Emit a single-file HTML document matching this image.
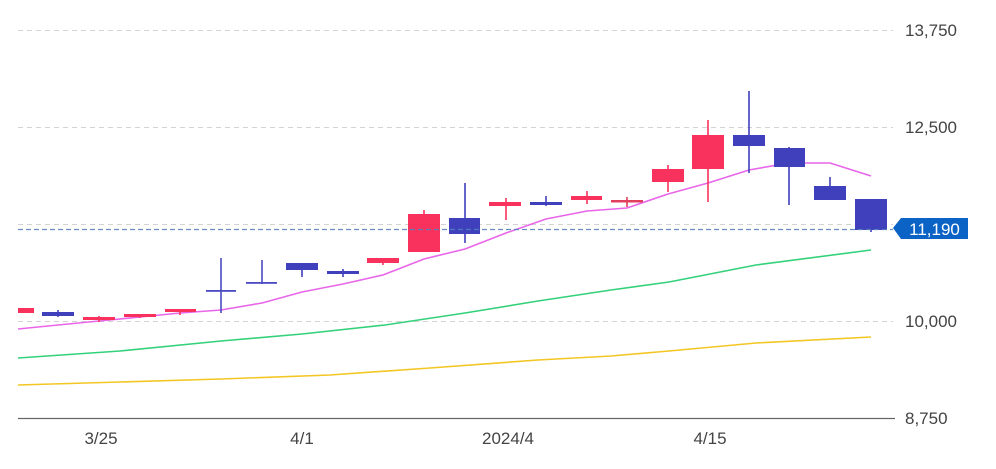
<!DOCTYPE html>
<html>
<head>
<meta charset="utf-8">
<style>
  html,body{margin:0;padding:0;background:#fff;}
  svg{display:block;}
  text{font-family:"Liberation Sans", Arial, sans-serif;}
</style>
</head>
<body>
<svg width="996" height="469" viewBox="0 0 996 469" xmlns="http://www.w3.org/2000/svg">
  <defs>
    <clipPath id="plot"><rect x="18" y="0" width="878" height="418"/></clipPath>
  </defs>
  <!-- grid -->
  <g stroke="#d3d3d3" stroke-width="1" stroke-dasharray="5,4">
    <line x1="18" y1="30.5" x2="893" y2="30.5"/>
    <line x1="18" y1="127.5" x2="893" y2="127.5"/>
    <line x1="18" y1="224.5" x2="893" y2="224.5"/>
    <line x1="18" y1="321.5" x2="893" y2="321.5"/>
  </g>
  <line x1="18" y1="418.5" x2="895" y2="418.5" stroke="#666" stroke-width="1.2"/>

  <!-- y labels -->
  <g fill="#444" font-size="17">
    <text x="905" y="36">13,750</text>
    <text x="905" y="133">12,500</text>
    <text x="905" y="327">10,000</text>
    <text x="905" y="424">8,750</text>
  </g>
  <!-- x labels -->
  <g fill="#444" font-size="17" text-anchor="middle">
    <text x="101" y="444">3/25</text>
    <text x="302" y="444">4/1</text>
    <text x="508" y="444">2024/4</text>
    <text x="710" y="444">4/15</text>
  </g>

  <!-- moving averages -->
  <g fill="none" stroke-width="1.6" stroke-linejoin="round" clip-path="url(#plot)">
    <polyline stroke="#f3c623" points="18,385 120,382 221,379 330,375 430,368 538,360 611,356 669,351 756,343 871,337"/>
    <polyline stroke="#33d17a" points="18,358 120,351 221,341 302,334 385,325 465,313 538,301 611,290 669,282 756,265 871,250"/>
    <polyline stroke="#e866e8" points="18,329 58,325 99,321 140,317 180,313 221,310 262,303 302,292 343,284 383,275 424,259 465,249 506,233 546,219 587,211 627,208 668,194 708,183 749,170 789,163 830,163 871,176"/>
  </g>

  <!-- candles -->
  <g clip-path="url(#plot)">
    <!-- wicks -->
    <g stroke-width="1.6">
      <line x1="58" y1="310" x2="58" y2="317" stroke="#4040bd"/>
      <line x1="99" y1="316" x2="99" y2="322" stroke="#f8325c"/>
      <line x1="140" y1="314" x2="140" y2="318" stroke="#f8325c"/>
      <line x1="180" y1="309" x2="180" y2="315" stroke="#f8325c"/>
      <line x1="221" y1="258" x2="221" y2="313" stroke="#4a4ac2"/>
      <line x1="262" y1="260" x2="262" y2="284" stroke="#4a4ac2"/>
      <line x1="302" y1="263" x2="302" y2="277" stroke="#4040bd"/>
      <line x1="343" y1="269" x2="343" y2="277" stroke="#4040bd"/>
      <line x1="383" y1="258" x2="383" y2="265" stroke="#f8325c"/>
      <line x1="424" y1="210" x2="424" y2="252" stroke="#f8325c"/>
      <line x1="465" y1="183" x2="465" y2="243" stroke="#4040bd"/>
      <line x1="506" y1="198" x2="506" y2="220" stroke="#f8325c"/>
      <line x1="546" y1="196" x2="546" y2="206" stroke="#4040bd"/>
      <line x1="587" y1="191" x2="587" y2="204" stroke="#f8325c"/>
      <line x1="627" y1="197" x2="627" y2="207" stroke="#e0405e"/>
      <line x1="668" y1="165" x2="668" y2="192" stroke="#f8325c"/>
      <line x1="708" y1="120" x2="708" y2="202" stroke="#f8325c"/>
      <line x1="749" y1="91" x2="749" y2="173" stroke="#4040bd"/>
      <line x1="789" y1="147" x2="789" y2="205" stroke="#4040bd"/>
      <line x1="830" y1="177" x2="830" y2="200" stroke="#4040bd"/>
      <line x1="871" y1="199" x2="871" y2="232" stroke="#4040bd"/>
    </g>
    <!-- bodies -->
    <rect x="2" y="308" width="32" height="5" fill="#f8325c"/>
    <rect x="42" y="312" width="32" height="4" fill="#4040bd"/>
    <rect x="83" y="317" width="32" height="3" fill="#f8325c"/>
    <rect x="124" y="314" width="32" height="3" fill="#f8325c"/>
    <rect x="165" y="309" width="31" height="3" fill="#f8325c"/>
    <rect x="206" y="290" width="30" height="1.8" fill="#4a4ac2"/>
    <rect x="246" y="282" width="31" height="1.8" fill="#4a4ac2"/>
    <rect x="286" y="263" width="32" height="7" fill="#4040bd"/>
    <rect x="327" y="271" width="32" height="3" fill="#4040bd"/>
    <rect x="367" y="258" width="32" height="5" fill="#f8325c"/>
    <rect x="408" y="214" width="32" height="38" fill="#f8325c"/>
    <rect x="449" y="218" width="31" height="16" fill="#4040bd"/>
    <rect x="489" y="202" width="32" height="4" fill="#f8325c"/>
    <rect x="530" y="202" width="32" height="3" fill="#4040bd"/>
    <rect x="571" y="196" width="31" height="4" fill="#f8325c"/>
    <rect x="611" y="200" width="32" height="2.5" fill="#e0405e"/>
    <rect x="652" y="169" width="32" height="13" fill="#f8325c"/>
    <rect x="692" y="135" width="32" height="34" fill="#f8325c"/>
    <rect x="733" y="135" width="32" height="11" fill="#4040bd"/>
    <rect x="774" y="148" width="31" height="19" fill="#4040bd"/>
    <rect x="814" y="186" width="32" height="14" fill="#4040bd"/>
    <rect x="855" y="199" width="32" height="31" fill="#4040bd"/>
  </g>

  <!-- current price line -->
  <line x1="18" y1="229.5" x2="893" y2="229.5" stroke="#4f82b8" stroke-width="1.2" stroke-dasharray="5,3" opacity="0.9"/>
  <!-- price label -->
  <polygon points="893,228 901,218 968,218 968,239 901,239" fill="#0b63c6"/>
  <text x="934.5" y="235" fill="#fff" font-size="17" text-anchor="middle">11,190</text>
</svg>
</body>
</html>
